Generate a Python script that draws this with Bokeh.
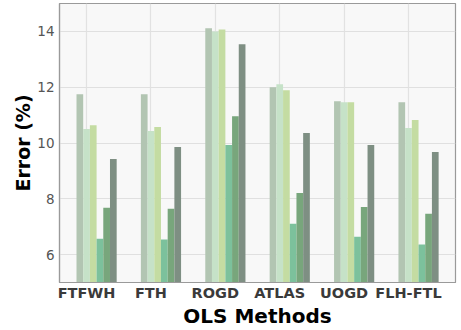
from bokeh.plotting import figure
from bokeh.models import FixedTicker, Range1d
from bokeh.embed import file_html
from bokeh.resources import INLINE

methods = ["FTFWH", "FTH", "ROGD", "ATLAS", "UOGD", "FLH-FTL"]
series1 = [11.75, 11.75, 14.11, 12.00, 11.50, 11.46]
series2 = [10.50, 10.43, 14.00, 12.11, 11.46, 10.54]
series3 = [10.64, 10.57, 14.07, 11.89, 11.46, 10.82]
series4 = [6.57, 6.54, 9.93, 7.11, 6.64, 6.36]
series5 = [7.68, 7.64, 10.96, 8.21, 7.71, 7.46]
series6 = [9.43, 9.86, 13.54, 10.36, 9.93, 9.68]
y_ticks = [6, 8, 10, 12, 14]

all_series = [series1, series2, series3, series4, series5, series6]
colors = ["#b2c5b2", "#c6e2c8", "#c4dca2", "#7cc19c", "#78a67c", "#7e8f83"]
w = 0.104

p = figure(width=461, height=330,
           min_border_left=59, min_border_right=6, min_border_top=3, min_border_bottom=47,
           output_backend="svg", toolbar_location=None,
           x_range=Range1d(-0.42, 5.73), y_range=Range1d(5, 15))

p.border_fill_color = "white"
p.background_fill_color = "#f8f8f8"
p.outline_line_color = "#9a9a9a"
p.outline_line_width = 1.2

xs_base = list(range(len(methods)))
for j, (vals, c) in enumerate(zip(all_series, colors)):
    xs = [x + (j - 1) * w for x in xs_base]
    p.vbar(x=xs, top=vals, bottom=5, width=w, fill_color=c, line_color=None)

p.xaxis.ticker = FixedTicker(ticks=xs_base)
p.xaxis.major_label_overrides = {i: m for i, m in enumerate(methods)}
p.yaxis.ticker = FixedTicker(ticks=y_ticks)

p.xgrid.grid_line_color = "#e2e2e2"
p.ygrid.grid_line_color = "#e0e0e0"
p.xgrid.grid_line_width = 1.2
p.ygrid.grid_line_width = 1.2

for ax in [p.xaxis[0], p.yaxis[0]]:
    ax.axis_line_color = "#9a9a9a"
    ax.axis_line_width = 1.2
    ax.major_tick_line_color = None
    ax.minor_tick_line_color = None
    ax.major_tick_out = 0
    ax.major_tick_in = 0
    ax.minor_tick_out = 0
    ax.minor_tick_in = 0
    ax.major_label_text_font = "DejaVu Sans"
    ax.axis_label_text_font = "DejaVu Sans"
    ax.axis_label_text_font_style = "bold"
    ax.axis_label_text_color = "black"

p.xaxis.major_label_text_font_style = "bold"
p.xaxis.major_label_text_font_size = "14.5px"
p.xaxis.major_label_text_color = "#3a3a3a"
p.xaxis.major_label_standoff = 2
p.xaxis.axis_label = "OLS Methods"
p.xaxis.axis_label_standoff = 0
p.xaxis.axis_label_text_font_size = "20px"

p.yaxis.major_label_text_font_size = "13.5px"
p.yaxis.major_label_text_color = "#555555"
p.yaxis.major_label_standoff = 5
p.yaxis.axis_label = "Error (%)"
p.yaxis.axis_label_standoff = 0
p.yaxis.axis_label_text_font_size = "19px"

open("out.html", "w").write(file_html(p, INLINE))
